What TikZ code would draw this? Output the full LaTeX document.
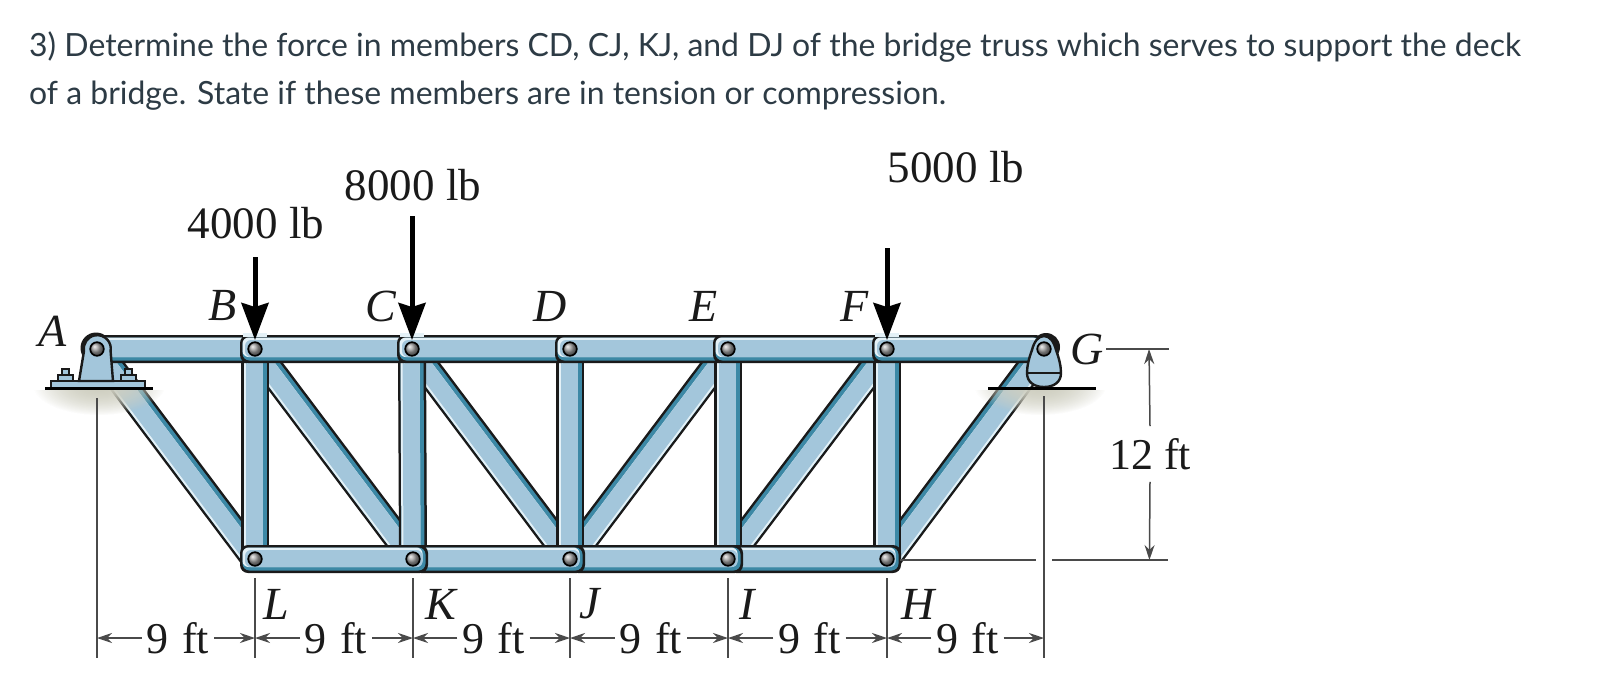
\documentclass[tikz,border=0pt]{standalone}
\usepackage{fontspec}
\setmainfont{Liberation Serif}
\newfontfamily\titlefont{Lato}
\usetikzlibrary{arrows.meta,calc,fadings}
\definecolor{mblue}{HTML}{A3C6DB}
\definecolor{mdark}{HTML}{3C88A5}
\definecolor{mlite}{HTML}{E4F1F7}
\definecolor{mline}{HTML}{1A1A1A}
\definecolor{titlecol}{HTML}{2D3B45}
\definecolor{dimcol}{HTML}{4A4A4A}
\definecolor{shcol}{HTML}{CFCFC1}
\tikzfading[name=shfade, inner color=transparent!0, outer color=transparent!100]
\tikzset{
  x=1pt,y=-1pt,
  titletext/.style={anchor=base west,inner sep=0,font=\titlefont\fontsize{31.95}{36}\selectfont,text=titlecol},
  loadtext/.style={inner sep=0,font=\fontsize{45}{48}\selectfont,text=mline},
  jointtext/.style={inner sep=0,font=\itshape\fontsize{46}{48}\selectfont,text=mline},
  dimtext/.style={inner sep=0,font=\fontsize{44}{46}\selectfont,text=mline},
  dimline/.style={draw=dimcol,line width=1.5pt},
  dimarrow/.style={dimline,-{Stealth[length=15pt,width=10pt]}},
  loadarrow/.style={draw=black,line width=5pt,-{Stealth[length=37pt,width=27pt,inset=4pt]}},
  pinball/.style={shading=ball,ball color=black!38,draw=black,line width=1.7pt},
  baseline/.style={draw=black,line width=2.6pt},
  outline/.style={draw=mline,line width=2.4pt},
}
% diagonal or vertical member: a, b, dark side unit offset dx, dy
\newcommand{\member}[4]{%
  \draw[mline,line width=28pt] (#1) -- (#2);
  \draw[mdark,line width=23pt] (#1) -- (#2);
  \draw[mlite,line width=19pt] ([shift={(-2*#3,-2*#4)}]#1) -- ([shift={(-2*#3,-2*#4)}]#2);
  \draw[mblue,line width=17pt] ([shift={(-1*#3,-1*#4)}]#1) -- ([shift={(-1*#3,-1*#4)}]#2);
}
% chord segment: a, b, left overhang, right overhang
\newcommand{\chordseg}[4]{%
  \fill[mline,rounded corners=8pt] ([shift={(-#3,-14)}]#1) rectangle ([shift={(#4,14)}]#2);
  \fill[mdark,rounded corners=7pt] ([shift={(-#3+2.5,-11.5)}]#1) rectangle ([shift={(#4-2.5,11.5)}]#2);
  \fill[mlite,rounded corners=6pt] ([shift={(-#3+2.5,-11.5)}]#1) rectangle ([shift={(#4-5.5,8)}]#2);
  \fill[mblue,rounded corners=6pt] ([shift={(-#3+5,-9)}]#1) rectangle ([shift={(#4-5.5,8)}]#2);
}
\begin{document}
\begin{tikzpicture}
\useasboundingbox (0,0) rectangle (1604,686);
\fill[white] (0,0) rectangle (1604,686);

\node[titletext] (t1) at (29,56) {3) Determine the force in members CD, CJ, KJ, and DJ of the bridge truss which serves to support the deck};
\node[titletext] (t2) at (29,104) {of a bridge. State if these members are in tension or compression.};

% joints
\coordinate (A) at (97,349);
\coordinate (B) at (255,349);
\coordinate (C) at (412,349);
\coordinate (D) at (570,349);
\coordinate (E) at (728,349);
\coordinate (F) at (887,349);
\coordinate (G) at (1044,349);
\coordinate (L) at (255,559);
\coordinate (K) at (413,559);
\coordinate (J) at (570,559);
\coordinate (I) at (728,559);
\coordinate (H) at (887,559);

% diagonals
\member{A}{L}{0.8}{-0.6}
\member{B}{K}{0.8}{-0.6}
\member{C}{J}{0.8}{-0.6}
\member{J}{E}{-0.8}{-0.6}
\member{I}{F}{-0.8}{-0.6}
\member{H}{G}{-0.8}{-0.6}
% verticals
\member{B}{L}{1}{0}
\member{C}{K}{1}{0}
\member{D}{J}{1}{0}
\member{E}{I}{1}{0}
\member{F}{H}{1}{0}

% bottom chord
\chordseg{I}{H}{0}{14}
\chordseg{J}{I}{0}{15}
\chordseg{K}{J}{0}{15}
\chordseg{L}{K}{15}{15}
% dark arcs behind the two ends of the chord
\fill[mline] (96,348) circle (15.5);
\fill[mline] (1046,347) circle (14);
% top chord
\chordseg{A}{B}{0}{0}
\chordseg{B}{C}{15}{0}
\chordseg{C}{D}{15}{0}
\chordseg{D}{E}{15}{0}
\chordseg{E}{F}{15}{0}
\chordseg{F}{G}{15}{0}
% highlight where the load arrows meet the chord
\fill[mlite] (243,332.5) rectangle (267,337);
\fill[mlite] (400,332.5) rectangle (424,337);
\fill[mlite] (875,332.5) rectangle (899,337);

% ground shadows
\begin{scope}
\clip (30,390) rectangle (1110,440);
\fill[shcol,path fading=shfade] (99,385) ellipse (66 and 30);
\fill[shcol,path fading=shfade] (99,385) ellipse (66 and 30);
\fill[shcol,path fading=shfade] (1040,385) ellipse (66 and 30);
\fill[shcol,path fading=shfade] (1040,385) ellipse (66 and 30);
\end{scope}

% support A
\fill[mblue,draw=mline,line width=1.6pt] (62,369) rectangle (69,375);
\fill[mblue,draw=mline,line width=1.6pt] (125,369) rectangle (132,375);
\fill[mblue,draw=mline,line width=1.8pt] (58,375) rectangle (73,381);
\fill[mblue,draw=mline,line width=1.8pt] (121,375) rectangle (136,381);
\fill[mblue,draw=mline,line width=2.2pt] (51,381) rectangle (145,388);
\filldraw[fill=mblue,outline] (79,381) -- (84,351) arc (170:370:13.5) -- (113,381) -- cycle;
\draw[baseline] (45,388.5) -- (153,388.5);

% support G
\filldraw[fill=mblue,outline] (1044,336) .. controls (1050,336) and (1054,342) .. (1056,350) .. controls (1059,358) and (1061,366) .. (1061,373) .. controls (1061,382) and (1054,387) .. (1044,387) .. controls (1034,387) and (1027,382) .. (1027,373) .. controls (1027,366) and (1029,358) .. (1032,350) .. controls (1034,342) and (1038,336) .. (1044,336) -- cycle;
\draw[mline,line width=1.3pt] (1028,373) -- (1060,373);
\draw[baseline] (988,388.5) -- (1096,388.5);

% pins
\foreach \p in {A,B,C,D,E,F,G,L,K,J,I,H} \shade[pinball] (\p) circle (6.8);

% loads
\coordinate (b0) at (255,257);
\coordinate (c0) at (412,216);
\coordinate (f0) at (887,248);
\coordinate (b1) at (255,340);
\coordinate (c1) at (412,340);
\coordinate (f1) at (887,340);
\draw[loadarrow] (b0) -- (b1);
\draw[loadarrow] (c0) -- (c1);
\draw[loadarrow] (f0) -- (f1);
\node[loadtext] (n4000) at (256,223) {4000 lb};
\node[loadtext] (n8000) at (413,185) {8000 lb};
\node[loadtext] (n5000) at (956,167) {5000 lb};

% joint letters
\node[jointtext] (lA) at (53,331) {A};
\node[jointtext] (lB) at (223,306) {B};
\node[jointtext] (lC) at (381,306) {C};
\node[jointtext] (lD) at (550,306) {D};
\node[jointtext] (lE) at (704,306) {E};
\node[jointtext] (lF) at (855,306) {F};
\node[jointtext] (lG) at (1087,349) {G};
\node[jointtext] (lL) at (276,604) {L};
\node[jointtext] (lK) at (441,604) {K};
\node[jointtext] (lJ) at (590,604) {J};
\node[jointtext] (lI) at (747,604) {I};
\node[jointtext] (lH) at (918,604) {H};

% extension lines
\coordinate (xa0) at (97,398);  \coordinate (xa1) at (97,658);
\coordinate (xl0) at (255,578); \coordinate (xl1) at (255,658);
\coordinate (xk0) at (413,578); \coordinate (xk1) at (413,658);
\coordinate (xj0) at (570,578); \coordinate (xj1) at (570,658);
\coordinate (xi0) at (728,578); \coordinate (xi1) at (728,658);
\coordinate (xh0) at (887,578); \coordinate (xh1) at (887,658);
\coordinate (xg0) at (1044,396);\coordinate (xg1) at (1044,658);
\foreach \u/\v in {xa0/xa1,xl0/xl1,xk0/xk1,xj0/xj1,xi0/xi1,xh0/xh1,xg0/xg1}
  \draw[dimline] (\u) -- (\v);

% 9 ft dimensions
\foreach \n/\l/\r in {1/xa1/xl1,2/xl1/xk1,3/xk1/xj1,4/xj1/xi1,5/xi1/xh1,6/xh1/xg1}{
  \node[dimtext,fill=white,inner xsep=5pt] (d\n) at ($(\l)!0.5!(\r)+(2,-20)$) {9\hspace{0.3em}ft};
  \draw[dimarrow] (d\n.west) -- (d\n.west -| \l);
  \draw[dimarrow] (d\n.east) -- (d\n.east -| \r);
}

% 12 ft dimension
\coordinate (gt0) at (1106,349); \coordinate (gt1) at (1169,349);
\coordinate (ht0) at (900,560);  \coordinate (ht1) at (1036,560);
\coordinate (ht2) at (1052,560); \coordinate (ht3) at (1168,560);
\draw[dimline] (gt0) -- (gt1);
\draw[dimline] (ht0) -- (ht1);
\draw[dimline] (ht2) -- (ht3);
\node[dimtext,fill=white,inner ysep=12pt] (d12) at (1150,454) {12 ft};
\draw[dimarrow] (d12.north -| gt1) ++(-19,0) -- ($(gt0)!0.683!(gt1)$);
\draw[dimarrow] (d12.south -| ht3) ++(-18,0) -- ($(ht2)!0.84!(ht3)$);
\end{tikzpicture}
\end{document}
